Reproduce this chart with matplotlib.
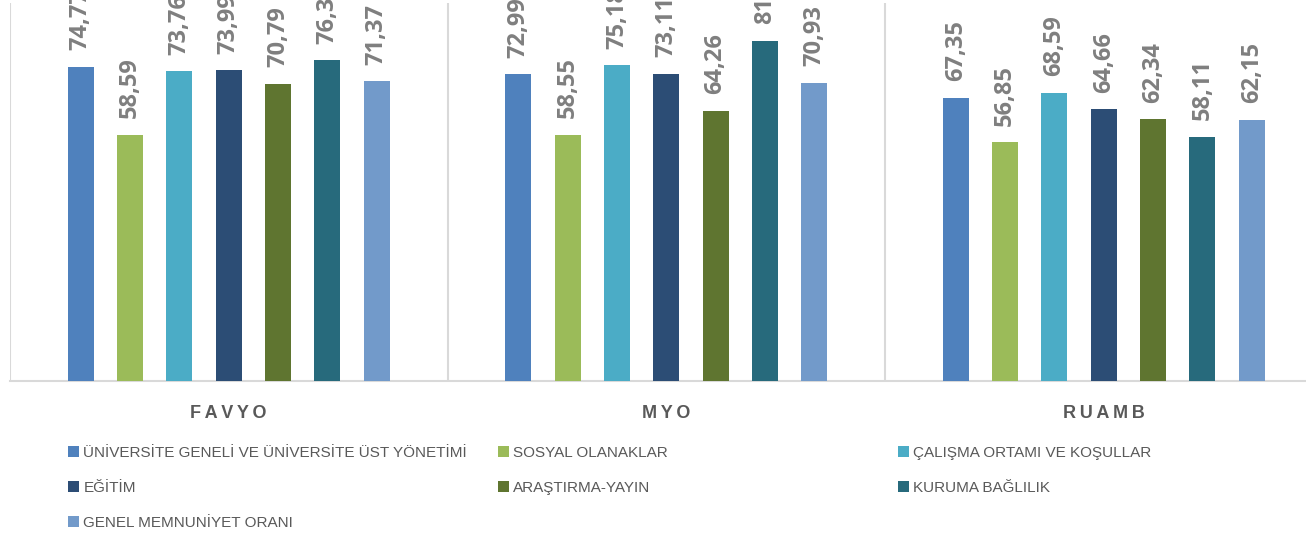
import matplotlib.pyplot as plt
import numpy as np

# カテゴリと系列
groups = ["FAVYO", "MYO", "RUAMB"]
series_names = [
    "ÜNİVERSİTE GENELİ VE ÜNİVERSİTE ÜST YÖNETİMİ",
    "SOSYAL OLANAKLAR",
    "ÇALIŞMA ORTAMI VE KOŞULLAR",
    "EĞİTİM",
    "ARAŞTIRMA-YAYIN",
    "KURUMA BAĞLILIK",
    "GENEL MEMNUNİYET ORANI",
]
universite = [74.77, 72.99, 67.35]
sosyal = [58.59, 58.55, 56.85]
calisma = [73.76, 75.18, 68.59]
egitim = [73.99, 73.11, 64.66]
arastirma = [70.79, 64.26, 62.34]
kurum = [76.33, 81, 58.11]
genel = [71.37, 70.93, 62.15]
value_labels = [
    ["74,77", "72,99", "67,35"],
    ["58,59", "58,55", "56,85"],
    ["73,76", "75,18", "68,59"],
    ["73,99", "73,11", "64,66"],
    ["70,79", "64,26", "62,34"],
    ["76,33", "81", "58,11"],
    ["71,37", "70,93", "62,15"],
]

colors = ["#4F81BD", "#9BBB59", "#4BACC6", "#2C4D75", "#5F7530", "#276A7C", "#729ACA"]

VAL_FONT = ["Open Sans", "DejaVu Sans"]
LEG_FONT = ["Liberation Sans", "DejaVu Sans"]


def main() -> None:
    all_series = [universite, sosyal, calisma, egitim, arastirma, kurum, genel]

    fig = plt.figure(figsize=(13.06, 5.34), dpi=100)
    # プロット領域は右端が画像の外まで伸びている
    ax = fig.add_axes([10 / 1306, 153 / 534, 1312.5 / 1306, 378 / 534])

    step = 0.1127
    width = 0.0594
    centers = np.arange(len(groups)) + 0.5
    handles = []
    for k, vals in enumerate(all_series):
        x = centers + (k - 3) * step
        bars = ax.bar(x, vals, width=width, color=colors[k], label=series_names[k], zorder=3)
        handles.append(bars)
        for xi, v, lab in zip(x, vals, value_labels[k]):
            ax.annotate(lab, (xi, v), xytext=(0, 12), textcoords="offset points",
                        rotation=90, ha="center", va="bottom", fontsize=17,
                        fontweight="bold", color="#7F7F7F", family=VAL_FONT,
                        annotation_clip=False)

    ax.set_xlim(0, 3)
    ax.set_ylim(0, 90)
    ax.set_yticks([])
    ax.set_xticks([0, 1, 2, 3])
    ax.set_xticklabels([])
    ax.tick_params(axis="x", length=0)
    ax.grid(axis="x", color="#D9D9D9", linewidth=1.5, zorder=0)
    for s in ["top", "right", "left"]:
        ax.spines[s].set_visible(False)
    ax.spines["bottom"].set_color("#D9D9D9")
    ax.spines["bottom"].set_linewidth(1.5)

    # カテゴリ名（字間あり）
    for c, g in zip(centers, groups):
        ax.text(c, -0.085, "\u2009".join(g), transform=ax.get_xaxis_transform(),
                ha="center", va="center", fontsize=13, fontweight="bold",
                color="#595959", family=LEG_FONT)

    # 凡例：3列を個別に配置
    cols = [[0, 3, 6], [1, 4], [2, 5]]
    xs = [68 / 1306, 498 / 1306, 898 / 1306]
    for col, x0 in zip(cols, xs):
        leg = fig.legend([handles[i] for i in col], [series_names[i] for i in col],
                         loc="upper left", bbox_to_anchor=(x0, 1 - 446 / 534),
                         frameon=False, ncol=1, fontsize=11, handlelength=0.7,
                         handleheight=0.7, handletextpad=0.3, labelspacing=1.38,
                         borderaxespad=0, borderpad=0)
        for t in leg.get_texts():
            t.set_color("#595959")
            t.set_family(LEG_FONT)

    fig.savefig("out.png", dpi=100)


if __name__ == "__main__":
    main()
